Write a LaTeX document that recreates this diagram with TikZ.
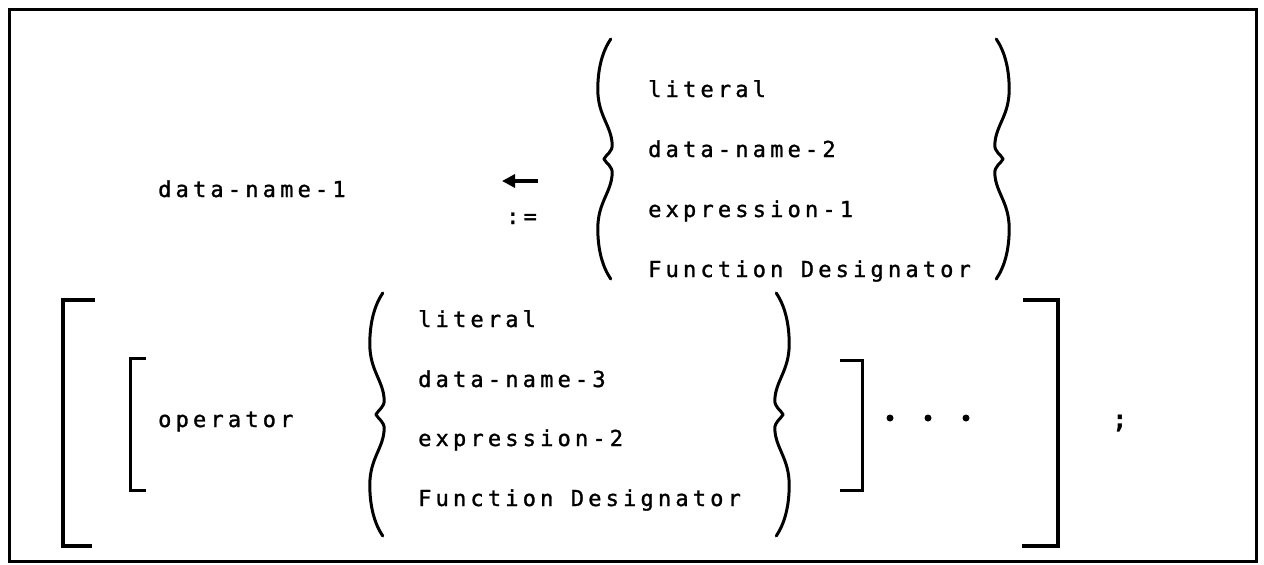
\documentclass[tikz,border=0pt]{standalone}
\usepackage{fontspec}
\newfontfamily\typer{DejaVu Sans Mono}[LetterSpace=19,FakeBold=1.3]
\newfontfamily\typerbold{DejaVu Sans Mono Bold}
\usetikzlibrary{arrows.meta}

\tikzset{
  txt/.style={anchor=base west, inner sep=0pt, font=\typer\fontsize{22}{26}\selectfont},
  frame/.style={line width=3pt},
  brk/.style={line width=4pt, line join=miter},
  ibrk/.style={line width=3pt, line join=miter},
  bracestroke/.style={line width=3pt, line cap=round, line join=round},
  % curly brace in a unit box: x 0..1 across, y 0..1 downwards, point at y=0.5
  wavybrace/.pic={
    \draw[bracestroke] (0.86,0) .. controls (0.35,0.05) and (0.05,0.12) .. (0.05,0.21)
      .. controls (0.05,0.32) and (0.9,0.36) .. (0.95,0.44)
      .. controls (0.97,0.47) and (0.6,0.48) .. (0.43,0.5)
      .. controls (0.6,0.52) and (0.97,0.53) .. (0.95,0.56)
      .. controls (0.9,0.64) and (0.05,0.68) .. (0.05,0.79)
      .. controls (0.05,0.88) and (0.35,0.95) .. (0.86,1);
  }
}

\begin{document}
\begin{tikzpicture}[x=1pt,y=-1pt]
\useasboundingbox (0,0) rectangle (1264,565);
\fill[white] (0,0) rectangle (1264,565);
\draw[frame] (9,9) rectangle (1256,561);

% ---- assignment line ----
\node[txt] (dn1) at (158,197) {data-name-1};
\coordinate (arrtail) at (538,181);
\coordinate (arrhead) at (502,181);
\draw[line width=3.2pt, -{Triangle[length=13pt,width=13pt]}] (arrtail) -- (arrhead);
\node[txt] (assign) at (506,224) {:=};

\pic[xscale=16, yscale=240] at (597,39) {wavybrace};
\node[txt] (lit1) at (648,97)  {literal};
\node[txt] (dn2)  at (648,157) {data-name-2};
\node[txt] (ex1)  at (648,217) {expression-1};
\node[txt] (fd1)  at (648,277) {Function Designator};
\pic[xscale=-16, yscale=240] at (1010,39) {wavybrace};

% ---- repeated operator part ----
\draw[brk] (95,300) -- (63,300) -- (63,546) -- (92,546);
\draw[ibrk] (146,358) -- (130,358) -- (130,490) -- (146,490);
\node[txt] (op) at (158,427) {operator};

\pic[xscale=16, yscale=243] at (369,293) {wavybrace};
\node[txt] (lit2) at (418,327) {literal};
\node[txt] (dn3)  at (418,387) {data-name-3};
\node[txt] (ex2)  at (418,446) {expression-2};
\node[txt] (fd2)  at (418,506) {Function Designator};
\pic[xscale=-16, yscale=243] at (790,293) {wavybrace};

\draw[ibrk] (840,360) -- (862,360) -- (862,490) -- (840,490);
\foreach \i/\x in {1/890,2/928,3/966} \fill (\x,418) circle (3.5pt) coordinate (dot\i);
\draw[brk] (1023,300) -- (1058,300) -- (1058,546) -- (1022,546);
\node[anchor=base west, inner sep=0pt, font=\typerbold\fontsize{26}{30}\selectfont] (semi) at (1112,428) {;};
\end{tikzpicture}
\end{document}
